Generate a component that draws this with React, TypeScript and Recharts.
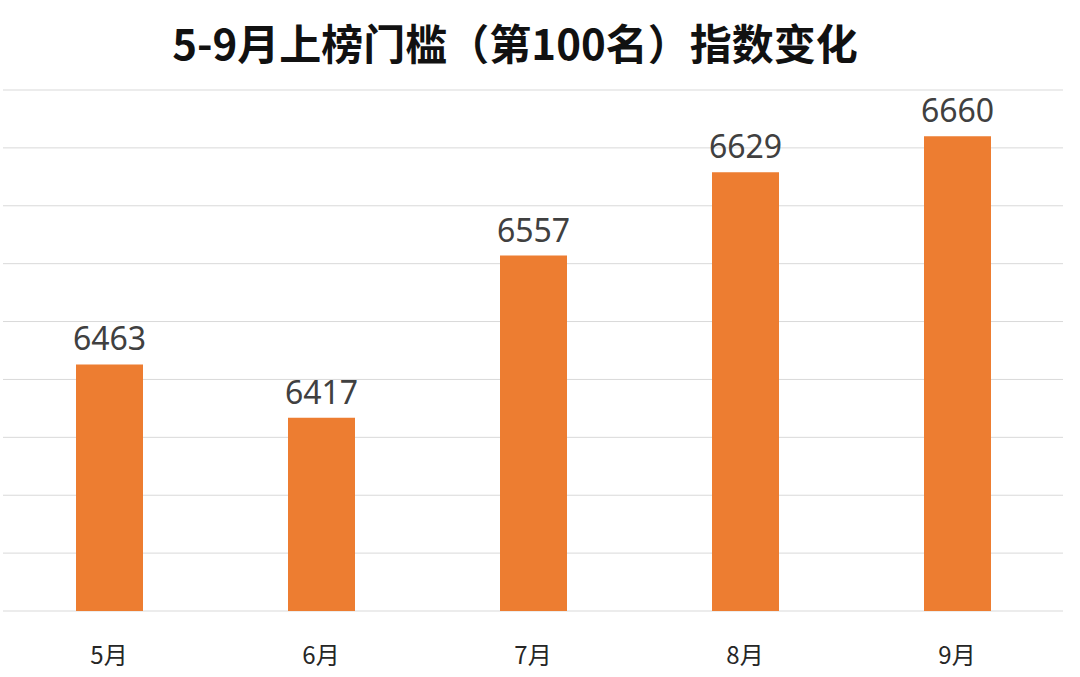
import { Bar, BarChart, CartesianGrid, LabelList, XAxis, YAxis } from "recharts";

const months = ["5月", "6月", "7月", "8月", "9月"];
const threshold = [6463, 6417, 6557, 6629, 6660];
const yTicks = [6250, 6300, 6350, 6400, 6450, 6500, 6550, 6600, 6650, 6700];

const BAR = "#ED7D31";
const GRID = "#d9d9d9";

const data = months.map((m, i) => ({ month: m, value: threshold[i] }));

const MonthTick = (props: any) => {
  const { x, y, payload } = props;
  return (
    <text
      x={x}
      y={y + 38}
      textAnchor="middle"
      dominantBaseline="middle"
      fontSize={24}
      fill="#262626"
      fontFamily="'Noto Sans CJK SC', 'Noto Sans', sans-serif"
    >
      {payload.value}
    </text>
  );
};

export default function App() {
  return (
    <div
      style={{
        position: "absolute",
        left: 0,
        top: 0,
        width: 1080,
        height: 677,
        background: "#fff",
      }}
    >
      <div
        style={{
          position: "absolute",
          top: 14,
          left: 0,
          width: 1030,
          textAlign: "center",
          fontSize: 42,
          fontWeight: 700,
          color: "#111",
          fontFamily: "'Noto Sans CJK SC', sans-serif",
          lineHeight: "56px",
        }}
      >
        5-9月上榜门槛（第100名）指数变化
      </div>
      <BarChart
        width={1080}
        height={677}
        data={data}
        margin={{ top: 90, right: 17, bottom: 0, left: 3 }}
      >
        <CartesianGrid stroke={GRID} vertical={false} />
        <YAxis hide domain={[6250, 6700]} ticks={yTicks} allowDataOverflow />
        <XAxis
          dataKey="month"
          height={66}
          axisLine={false}
          tickLine={false}
          tick={<MonthTick />}
        />
        <Bar dataKey="value" fill={BAR} barSize={67} isAnimationActive={false}>
          <LabelList
            dataKey="value"
            position="top"
            offset={14}
            fill="#404040"
            fontSize={32}
            fontFamily="'Noto Sans', sans-serif"
          />
        </Bar>
      </BarChart>
    </div>
  );
}
